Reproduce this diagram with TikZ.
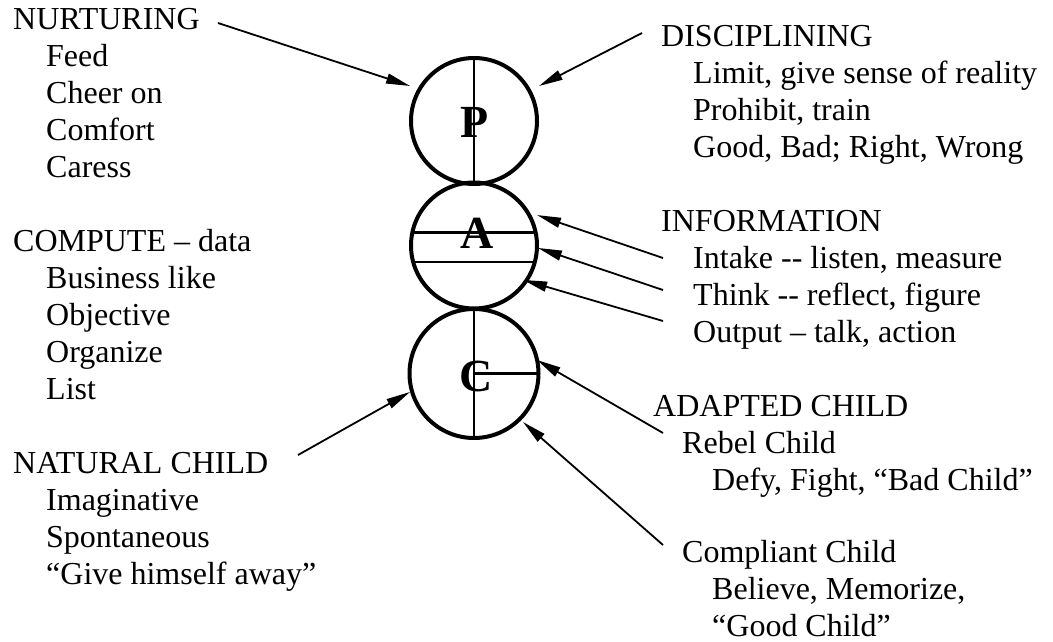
\documentclass[tikz,border=0pt]{standalone}
\usepackage{fontspec}
\setmainfont{Liberation Serif}
\usetikzlibrary{arrows.meta,calc}
\begin{document}
\begin{tikzpicture}[x=1pt,y=-1pt,
  txt/.style={anchor=base west, align=left, inner sep=0pt, font=\fontsize{32}{37}\selectfont},
  ring/.style={circle, draw, line width=4pt, inner sep=0pt, outer sep=0pt},
  letter/.style={anchor=base, inner sep=0pt, font=\fontsize{46}{52}\selectfont\bfseries},
  divider/.style={line width=2.6pt},
  arr/.style={line width=1.8pt, -{Triangle[length=24pt,width=10pt]}}
]
\useasboundingbox (0,0) rectangle (1053,642);

% circles
\node[ring, minimum size=126pt] (P) at (474,121) {};
\node[ring, minimum size=126pt] (A) at (474,245.5) {};
\node[ring, minimum size=129pt] (C) at (474,373.5) {};

% dividers
\draw[divider] (P.north) -- (P.south);
\draw[divider] (A.12) -- (A.168);
\draw[divider] (A.-15) -- (A.195);
\draw[divider] (C.north) -- (C.south);
\draw[divider] (C.center) -- (C.east);

% letters
\node[letter] (lP) at (475,137) {P};
\node[letter] (lA) at (477,248) {A};
\node[letter] (lC) at (476,391) {C};

% left texts (anchored at the baseline of the last line)
\node[txt] (nurt) at (13,177.5) {NURTURING\\
\hspace*{33pt}Feed\\
\hspace*{33pt}Cheer on\\
\hspace*{33pt}Comfort\\
\hspace*{33pt}Caress};
\node[txt] (comp) at (13,399.5) {COMPUTE – data\\
\hspace*{33pt}Business like\\
\hspace*{33pt}Objective\\
\hspace*{33pt}Organize\\
\hspace*{33pt}List};
\node[txt] (nat) at (13,584.5) {NATURAL CHILD\\
\hspace*{33pt}Imaginative\\
\hspace*{33pt}Spontaneous\\
\hspace*{33pt}“Give himself away”};

% right texts
\node[txt] (disc) at (661,157.7) {DISCIPLINING\\
\hspace*{32pt}Limit, give sense of reality\\
\hspace*{32pt}Prohibit, train\\
\hspace*{32pt}Good, Bad; Right, Wrong};
\node[txt] (info) at (661,342.7) {INFORMATION\\
\hspace*{32pt}Intake -{}- listen, measure\\
\hspace*{32pt}Think -{}- reflect, figure\\
\hspace*{32pt}Output – talk, action};
\node[txt] (adap) at (653,490.7) {ADAPTED CHILD\\
\hspace*{29pt}Rebel Child\\
\hspace*{59pt}Defy, Fight, “Bad Child”};
\node[txt] (compl) at (682,636.5) {Compliant Child\\
\hspace*{30pt}Believe, Memorize,\\
\hspace*{30pt}“Good Child”};

% arrow tails
\coordinate (tNurt) at (218,23);
\coordinate (tDisc) at (642,33);
\coordinate (tIntake) at (663,258);
\coordinate (tThink) at (663,290);
\coordinate (tOutput) at (663,321);
\coordinate (tAdap) at (663,433);
\coordinate (tCompl) at (663,545);
\coordinate (tNat) at (298,455);

% arrows
\draw[arr] (tNurt) -- ($(P.center)+(151.3:72.9pt)$);
\draw[arr] (tDisc) -- ($(P.center)+(28.3:73.8pt)$);
\draw[arr] (tIntake) -- ($(A.center)+(25.8:70pt)$);
\draw[arr] (tThink) -- ($(A.center)+(-2.2:64pt)$);
\draw[arr] (tOutput) -- ($(A.center)+(-35:60pt)$);
\draw[arr] (tAdap) -- ($(C.center)+(12.1:64.4pt)$);
\draw[arr] (tCompl) -- ($(C.center)+(-44.7:69pt)$);
\draw[arr] (tNat) -- ($(C.center)+(196.1:66.6pt)$);
\end{tikzpicture}
\end{document}
